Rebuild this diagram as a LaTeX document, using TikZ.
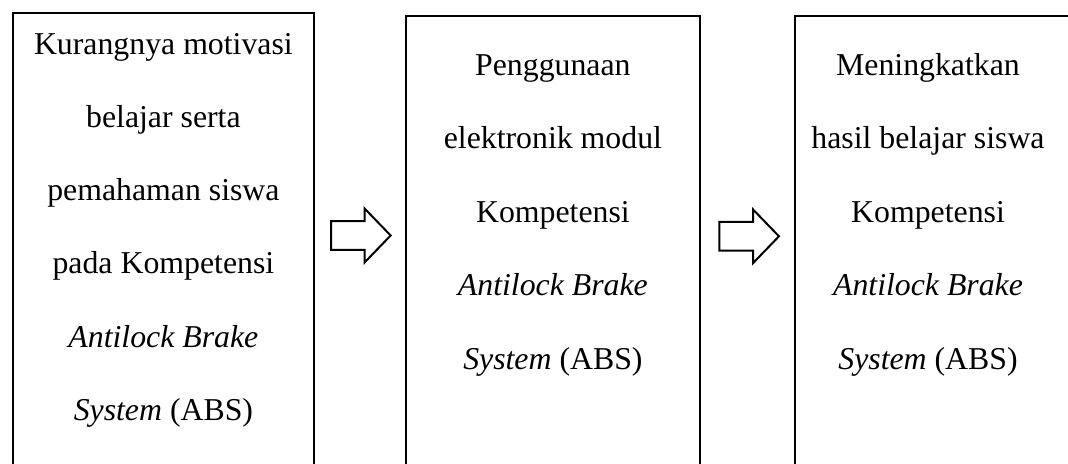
\documentclass[tikz,border=0pt]{standalone}
\usepackage{fontspec}
\setmainfont{Liberation Serif}
\usetikzlibrary{shapes.arrows}
\begin{document}
\begin{tikzpicture}[x=1bp,y=-1bp,
  box/.style={draw,line width=2bp,inner sep=0pt,outer sep=0pt,anchor=north west},
  txt/.style={anchor=base,inner sep=0pt,font=\fontsize{31.8bp}{38bp}\selectfont},
  blockarrow/.style={draw,line width=2bp,shape=single arrow,inner xsep=0pt,inner ysep=13.3bp,outer sep=0pt,
    minimum height=59.5bp,single arrow head extend=12.55bp,
    single arrow tip angle=92,single arrow head indent=0pt}]
\useasboundingbox (0,0) rectangle (1068,464);
\clip (0,0) rectangle (1068,464);
\node[box,minimum width=301.3bp,minimum height=470bp] (b1) at (12.7,12.7) {};
\node[box,minimum width=294.3bp,minimum height=470bp] (b2) at (405.7,15.7) {};
\node[box,minimum width=285bp,minimum height=470bp] (b3) at (795,15.7) {};
% box 1 text
\node[txt] (t11) at (163.4,54.3) {Kurangnya motivasi};
\node[txt] (t12) at (163.4,127.5) {belajar serta};
\node[txt] (t13) at (163.4,200.7) {pemahaman siswa};
\node[txt] (t14) at (163.4,273.9) {pada Kompetensi};
\node[txt] (t15) at (163.4,347.1) {\itshape Antilock Brake};
\node[txt] (t16) at (163.4,420.3) {\textit{System} (ABS)};
% box 2 text
\node[txt] (t21) at (552.9,75.5) {Penggunaan};
\node[txt] (t22) at (552.9,149) {elektronik modul};
\node[txt] (t23) at (552.9,222.5) {Kompetensi};
\node[txt] (t24) at (552.9,296) {\itshape Antilock Brake};
\node[txt] (t25) at (552.9,369.5) {\textit{System} (ABS)};
% box 3 text
\node[txt] (t31) at (928,75.5) {Meningkatkan};
\node[txt] (t32) at (928,149) {hasil belajar siswa};
\node[txt] (t33) at (928,222.5) {Kompetensi};
\node[txt] (t34) at (928,296) {\itshape Antilock Brake};
\node[txt] (t35) at (928,369.5) {\textit{System} (ABS)};
% arrows
\node[blockarrow] (a1) at (354,235.5) {};
\node[blockarrow] (a2) at (742.3,236.3) {};
\end{tikzpicture}
\end{document}
